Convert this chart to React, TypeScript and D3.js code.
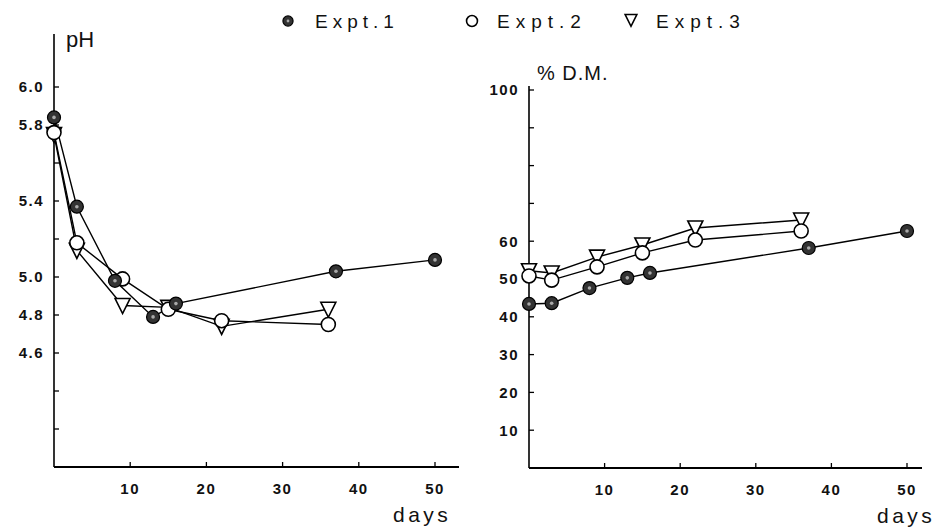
import React from "react";
import * as d3 from "d3";

// days sampled in each experiment
const days1 = [0, 3, 8, 13, 16, 37, 50];
const days2 = [0, 3, 9, 15, 22, 36];
const days3 = [0, 3, 9, 15, 22, 36];

// pH
const ph1 = [5.84, 5.37, 4.98, 4.79, 4.86, 5.03, 5.09];
const ph2 = [5.76, 5.18, 4.99, 4.83, 4.77, 4.75];
const ph3 = [5.75, 5.14, 4.85, 4.84, 4.74, 4.83];

// % dry matter
const dm1 = [43.4, 43.6, 47.6, 50.3, 51.6, 58.2, 62.7];
const dm2 = [50.8, 49.7, 53.2, 56.9, 60.3, 62.7];
const dm3 = [52.2, 51.6, 55.8, 59.0, 63.5, 65.6];

const xTicks = [10, 20, 30, 40, 50];
const phTicks = [4.2, 4.4, 4.6, 4.8, 5.0, 5.2, 5.4, 5.6, 5.8, 6.0];
const phLabels = ["4.6", "4.8", "5.0", "5.4", "5.8", "6.0"];
const dmTicks = [10, 20, 30, 40, 50, 60, 70, 80, 90, 100];
const dmLabels = ["10", "20", "30", "40", "50", "60", "100"];

const legendItems = ["Expt.1", "Expt.2", "Expt.3"];

const W = 936;
const H = 529;
const tickFont = "'Liberation Sans', Arial, sans-serif";

function zip(xs: number[], ys: number[]) {
  return xs.map((x, i) => [x, ys[i]] as [number, number]);
}

function Marker({ kind, x, y, size = 1 }: { kind: number; x: number; y: number; size?: number }) {
  if (kind === 0) {
    return (
      <g>
        <circle cx={x} cy={y} r={6.5 * size} fill="#333" stroke="#000" strokeWidth={1.2} />
        <circle cx={x} cy={y} r={1.8 * size} fill="#aaa" />
      </g>
    );
  }
  if (kind === 1) {
    return <circle cx={x} cy={y} r={7 * size} fill="#fff" stroke="#000" strokeWidth={1.6} />;
  }
  const s = 7.5 * size;
  return (
    <path
      d={`M${x - s},${y - 7 * size} L${x + s},${y - 7 * size} L${x},${y + 8 * size} Z`}
      fill="#fff"
      stroke="#000"
      strokeWidth={1.6}
    />
  );
}

function Panel({
  x, y, axisTop, axisRight, series, yTicks, yLabels, title, titleX, titleY, titleSize, titleSpacing, daysX,
}: any) {
  const x0 = x.range()[0];
  const y0 = y.range()[0];
  const line = d3.line<[number, number]>().x((d) => x(d[0])).y((d) => y(d[1]));
  return (
    <g>
      <line x1={x0} y1={axisTop} x2={x0} y2={y0} stroke="#000" strokeWidth={1.6} />
      <line x1={x0} y1={y0} x2={axisRight} y2={y0} stroke="#000" strokeWidth={1.8} />
      {yTicks.map((t: number) => (
        <line key={"yt" + t} x1={x0} x2={x0 + 5} y1={y(t)} y2={y(t)} stroke="#000" strokeWidth={1.3} />
      ))}
      {yLabels.map((l: string) => (
        <text
          key={"yl" + l}
          x={x0 - 10}
          y={y(+l)}
          dy="0.36em"
          textAnchor="end"
          fontFamily={tickFont}
          fontWeight="bold"
          fontSize={15}
          letterSpacing={1.5}
          fill="#111"
        >
          {l}
        </text>
      ))}
      {xTicks.map((t) => (
        <g key={"xt" + t}>
          <line x1={x(t)} x2={x(t)} y1={y0} y2={y0 - 5} stroke="#000" strokeWidth={1.3} />
          <text
            x={x(t)}
            y={y0 + 27}
            textAnchor="middle"
            fontFamily={tickFont}
            fontWeight="bold"
            fontSize={15}
            letterSpacing={1.5}
            fill="#111"
          >
            {t}
          </text>
        </g>
      ))}
      <text
        x={titleX}
        y={titleY}
        fontFamily={tickFont}
        fontSize={titleSize}
        letterSpacing={titleSpacing}
        fill="#111"
      >
        {title}
      </text>
      <text x={daysX} y={y0 + 55} fontFamily={tickFont} fontSize={21} letterSpacing={3.5} fill="#111">
        days
      </text>
      {series.map((s: [number, number][], i: number) => (
        <path key={"l" + i} d={line(s) || ""} fill="none" stroke="#000" strokeWidth={1.4} />
      ))}
      {[2, 1, 0].map((k) =>
        series[k].map((d: [number, number], j: number) => (
          <Marker key={"m" + k + "-" + j} kind={k} x={x(d[0])} y={y(d[1])} />
        ))
      )}
    </g>
  );
}

export default function App() {
  const xL = d3.scaleLinear().domain([0, 50]).range([54, 435]);
  const yL = d3.scaleLinear().domain([4.0, 6.0]).range([467, 87]);
  const xR = d3.scaleLinear().domain([0, 50]).range([529, 907]);
  const yR = d3.scaleLinear().domain([0, 100]).range([468, 90]);

  const legendX = [288, 472, 631];

  return (
    <svg width={W} height={H} style={{ position: "absolute", left: 0, top: 0, background: "#fff" }}>
      <rect width={W} height={H} fill="#fff" />
      <Panel
        x={xL}
        y={yL}
        axisTop={34}
        axisRight={459}
        series={[zip(days1, ph1), zip(days2, ph2), zip(days3, ph3)]}
        yTicks={phTicks}
        yLabels={phLabels}
        title="pH"
        titleX={66}
        titleY={47}
        titleSize={22}
        titleSpacing={0}
        daysX={393}
      />
      <Panel
        x={xR}
        y={yR}
        axisTop={86}
        axisRight={922}
        series={[zip(days1, dm1), zip(days2, dm2), zip(days3, dm3)]}
        yTicks={dmTicks}
        yLabels={dmLabels}
        title="% D.M."
        titleX={537}
        titleY={80}
        titleSize={20}
        titleSpacing={1}
        daysX={877}
      />
      {legendItems.map((name, i) => (
        <g key={name}>
          <Marker kind={i} x={legendX[i]} y={i === 2 ? 20 : 21} size={0.78} />
          <text
            x={legendX[i] + (i === 0 ? 27 : 25)}
            y={28}
            fontFamily={tickFont}
            fontSize={19}
            letterSpacing={i === 0 ? 5 : 6}
            fill="#111"
          >
            {name}
          </text>
        </g>
      ))}
    </svg>
  );
}
